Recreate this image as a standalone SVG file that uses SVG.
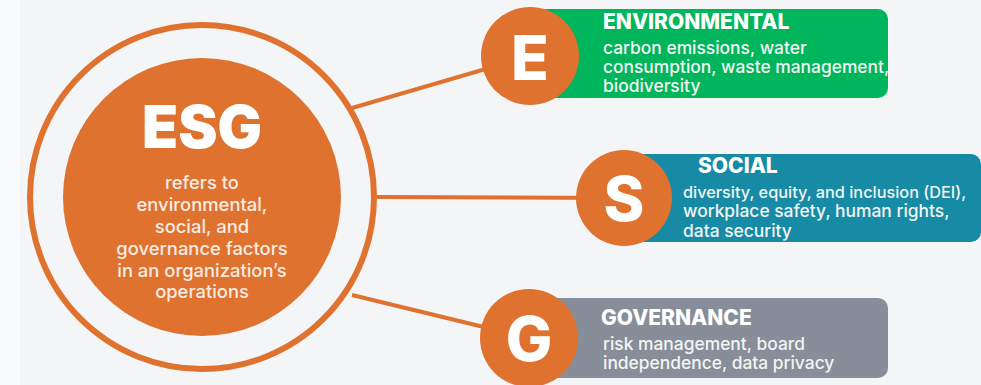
<svg xmlns="http://www.w3.org/2000/svg" width="981" height="385" viewBox="0 0 981 385">
<style>
.bg{fill:#f4f5f7}
.conn{stroke:#e0722f;stroke-width:4;fill:none}
.badge{fill:#e0722f}
.letter{font-family:Inter,"Liberation Sans",sans-serif;font-weight:800;font-size:62px;fill:#ffffff;text-anchor:middle}
.title{font-family:Inter,"Liberation Sans",sans-serif;font-weight:800;font-size:21px;fill:#ffffff}
.desc{font-family:Inter,"Liberation Sans",sans-serif;font-weight:500;font-size:17.4px;fill:#f2f5f3}
.center{font-family:Inter,"Liberation Sans",sans-serif;font-weight:500;font-size:18.4px;fill:#f7ece4;text-anchor:middle}
</style>
<rect class="bg" x="0" y="0" width="981" height="385"/>
<rect x="0" y="0" width="20" height="385" fill="#f9fafb"/>
<g id="connectors">
<line class="conn" x1="352" y1="108" x2="530" y2="56"/>
<line class="conn" x1="377" y1="197" x2="624" y2="198"/>
<line class="conn" x1="352" y1="295" x2="529" y2="338"/>
</g>
<g id="esg">
<circle cx="202" cy="197" r="172" fill="#f4f5f7" stroke="#e0722f" stroke-width="6"/>
<circle cx="202" cy="197" r="139" fill="#e0722f"/>
<text x="202" y="148" font-family="Inter,'Liberation Sans',sans-serif" font-weight="900" font-size="59" fill="#ffffff" text-anchor="middle">ESG</text>
<text class="center" x="202" y="189">refers to</text>
<text class="center" x="202" y="211">environmental,</text>
<text class="center" x="202" y="233">social, and</text>
<text class="center" x="202" y="255">governance factors</text>
<text class="center" x="202" y="277">in an organization’s</text>
<text class="center" x="202" y="298">operations</text>
</g>
<g id="environmental">
<rect x="520" y="9" width="368" height="89" rx="10" fill="#00b55b"/>
<circle class="badge" cx="530" cy="56" r="49"/>
<text class="letter" x="530" y="80">E</text>
<text class="title" x="603" y="29">ENVIRONMENTAL</text>
<text class="desc" x="603" y="54">carbon emissions, water</text>
<text class="desc" x="603" y="73">consumption, waste management,</text>
<text class="desc" x="603" y="92">biodiversity</text>
</g>
<g id="social">
<rect x="615" y="154" width="366" height="88" rx="10" fill="#178ba6"/>
<circle class="badge" cx="624" cy="198" r="48"/>
<text class="letter" x="624" y="221">S</text>
<text class="title" x="698" y="173">SOCIAL</text>
<text class="desc" x="683" y="198" style="font-size:16.3px">diversity, equity, and inclusion (DEI),</text>
<text class="desc" x="683" y="217">workplace safety, human rights,</text>
<text class="desc" x="683" y="237">data security</text>
</g>
<g id="governance">
<rect x="520" y="298" width="368" height="80" rx="10" fill="#878e99"/>
<circle class="badge" cx="529" cy="338" r="49"/>
<text class="letter" x="529" y="361">G</text>
<text class="title" x="601" y="325">GOVERNANCE</text>
<text class="desc" x="603" y="350">risk management, board</text>
<text class="desc" x="603" y="369">independence, data privacy</text>
</g>
</svg>
